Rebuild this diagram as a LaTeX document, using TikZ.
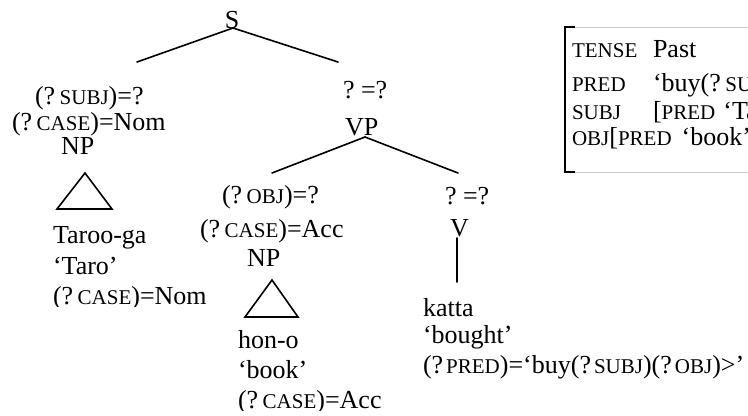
\documentclass[tikz,border=0pt]{standalone}
\usepackage{fontspec}
\setmainfont{Liberation Serif}
% reduced capitals for feature names
\newcommand{\smc}[1]{{\fontsize{21bp}{21bp}\selectfont #1}}
\newcommand{\up}{?}
\newcommand{\ug}{\hspace{4.5bp}}
\newcommand{\ugt}{\hspace{3bp}}

\begin{document}
\begin{tikzpicture}[x=1bp,y=-1bp,
  every node/.style={inner sep=0pt, outer sep=0pt, anchor=base west,
                     font=\fontsize{26bp}{30bp}\selectfont},
  branch/.style={line width=1.6bp, line cap=round},
  tri/.style={line width=1.6bp, line join=miter},
  brk/.style={line width=2bp},
  rule/.style={line width=1bp, draw=black!22}]
\useasboundingbox (0,0) rectangle (748,415);
\clip (0,0) rectangle (748,415);

% ---------- tree labels ----------
\node[anchor=base] (S) at (232,28) {S};

\node (subj)  at (35,104)  {(\up\ug\smc{SUBJ})=\up};
\node (case1) at (12,130)  {(\up\ug\smc{CASE})=Nom};
\node (np1)   at (61,154)  {NP};

\node (hd1)   at (343,98)  {\up\ =\up};
\node (VP)    at (345,135) {VP};

\node (obj)   at (222,203) {(\up\ug\smc{OBJ})=\up};
\node (case2) at (200,237) {(\up\ug\smc{CASE})=Acc};
\node (np2)   at (247,266) {NP};

\node (hd2)   at (445,204) {\up\ =\up};
\node (V)     at (450,236) {V};

% ---------- leaves ----------
\node (taroo) at (53,243) {Taroo-ga};
\node (taro)  at (53,274) {‘Taro’};
\begin{scope}
  \clip (0,0) rectangle (748,306);
  \node (nom) at (53,304) {(\up\ug\smc{CASE})=Nom};
\end{scope}

\node (hon)   at (238,348) {hon-o};
\node (book)  at (238,378) {‘book’};
\begin{scope}
  \clip (0,0) rectangle (748,410);
  \node (acc) at (238,408) {(\up\ug\smc{CASE})=Acc};
\end{scope}

\node (katta)  at (423,316) {katta};
\node (bought) at (423,343) {‘bought’};
\node (pred)   at (423,373) {(\up\ugt\smc{PRED})=‘buy(\up\ugt\smc{SUBJ})(\up\ugt\smc{OBJ})>’};

% ---------- branches ----------
\coordinate (Sroot) at (233,28);
\coordinate (Sl) at (137,62);
\coordinate (Sr) at (338,62);
\draw[branch] (Sl) -- (Sroot) -- (Sr);

\coordinate (VProot) at (365,137);
\coordinate (VPl) at (272,173);
\coordinate (VPr) at (458,173);
\draw[branch] (VPl) -- (VProot) -- (VPr);

\coordinate (Vtop) at (457,238);
\coordinate (Vbot) at (457,282);
\draw[branch] (Vtop) -- (Vbot);

% triangles over the noun phrases
\coordinate (t1a) at (85,173);
\coordinate (t1l) at (57,209);
\coordinate (t1r) at (112,209);
\draw[tri] (t1a) -- (t1l) -- (t1r) -- cycle;

\coordinate (t2a) at (272,280);
\coordinate (t2l) at (245,317);
\coordinate (t2r) at (298,317);
\draw[tri] (t2a) -- (t2l) -- (t2r) -- cycle;

% ---------- f-structure ----------
\coordinate (bTL) at (565,27);
\coordinate (bBL) at (565,172);
\coordinate (bTk) at (575,27);
\coordinate (bBk) at (575,172);
\coordinate (bTR) at (748,27);
\coordinate (bBR) at (748,172);
\draw[rule] (bTk) -- (bTR);
\draw[rule] (bBk) -- (bBR);
\draw[brk] (bTk) -- (bTL) -- (bBL) -- (bBk);

\node (fTense) at (572,57)  {\smc{TENSE}};
\node (fPast)  at (653,57)  {Past};
\node (fPred)  at (572,91)  {\smc{PRED}};
\node (fPredV) at (653,91)  {‘buy(\up\ug\smc{SUBJ})(\up\ug\smc{OBJ})>’};
\node (fSubj)  at (572,119) {\smc{SUBJ}};
\node (fSubjV) at (653,119) {[\smc{PRED}\hspace{8bp}‘Taro’]};
\node (fObj)   at (572,145) {\smc{OBJ}[\smc{PRED}\hspace{10bp}‘book’]};
\end{tikzpicture}
\end{document}
